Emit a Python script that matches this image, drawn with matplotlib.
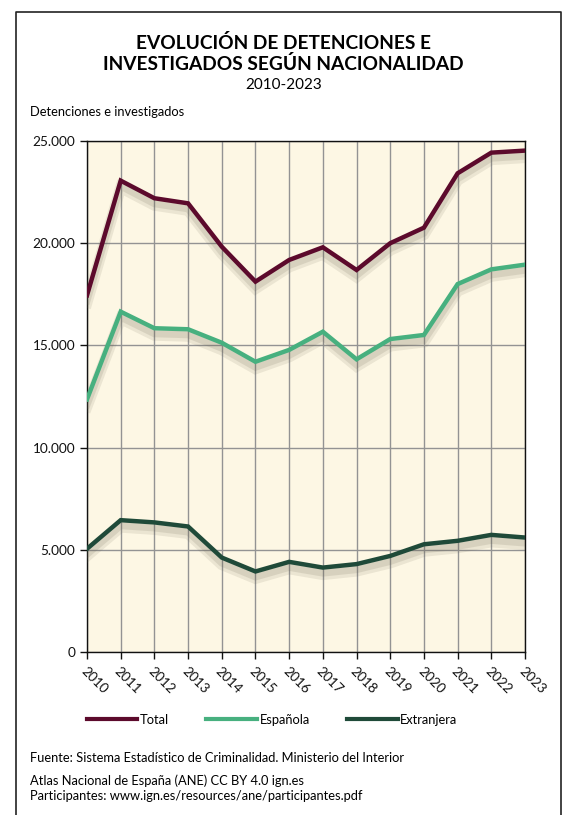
import matplotlib
matplotlib.use("Agg")
import matplotlib.pyplot as plt
import matplotlib.patheffects as pe
from matplotlib.ticker import FuncFormatter

# datos
years = [2010, 2011, 2012, 2013, 2014, 2015, 2016, 2017, 2018, 2019, 2020, 2021, 2022, 2023]
total = [17450, 23060, 22200, 21950, 19830, 18120, 19180, 19800, 18690, 20000, 20760, 23420, 24430, 24530]
espanola = [12360, 16650, 15840, 15790, 15130, 14200, 14780, 15670, 14320, 15310, 15510, 18000, 18720, 18950]
extranjera = [5050, 6450, 6340, 6140, 4620, 3940, 4410, 4130, 4300, 4700, 5270, 5440, 5730, 5600]

series = [("Total", total, "#5c0a2c"),
          ("Española", espanola, "#47b07f"),
          ("Extranjera", extranjera, "#1f4a39")]

plt.rcParams['font.family'] = ['Lato', 'DejaVu Sans']

fig = plt.figure(figsize=(5.67, 8.15), dpi=100)

# marco exterior (abierto por abajo)
W, H = 567, 815
fx = lambda x: x / W
fy = lambda y: 1 - y / H
fig.add_artist(plt.Line2D([fx(16), fx(16), fx(561), fx(561)],
                          [0, fy(12), fy(12), 0], color="#222222", lw=1.2))

fig.text(0.5, fy(43), "EVOLUCIÓN DE DETENCIONES E", ha="center", va="center",
         fontsize=13.8, fontweight="bold")
fig.text(0.5, fy(64), "INVESTIGADOS SEGÚN NACIONALIDAD", ha="center", va="center",
         fontsize=13.8, fontweight="bold")
fig.text(0.5, fy(85), "2010-2023", ha="center", va="center", fontsize=11)
fig.text(fx(30), fy(112), "Detenciones e investigados", ha="left", va="center", fontsize=9.3)

ax = fig.add_axes([fx(87), fy(652), fx(525) - fx(87), fy(141) - fy(652)])
ax.set_facecolor("#fdf7e4")

shadow = [pe.SimpleLineShadow(offset=(0, -5), shadow_color="#6a6450", alpha=0.12, linewidth=8),
          pe.SimpleLineShadow(offset=(0, -4), shadow_color="#6a6450", alpha=0.15, linewidth=5),
          pe.Normal()]

for name, vals, col in series:
    ax.plot(years, vals, color=col, lw=3.2, label=name, zorder=3,
            solid_joinstyle="miter", path_effects=shadow)

ax.set_xlim(2010, 2023)
ax.set_ylim(0, 25000)
ax.set_xticks(years)
ax.set_yticks(range(0, 25001, 5000))
ax.yaxis.set_major_formatter(FuncFormatter(lambda v, p: "0" if v == 0 else f"{int(v):,}".replace(",", ".")))
ax.grid(True, color="#939393", lw=1.0, zorder=1)
ax.set_axisbelow(True)
for s in ax.spines.values():
    s.set_color("#111111")
    s.set_linewidth(1.0)
ax.tick_params(axis="both", direction="out", length=5, width=1, labelsize=9.8, colors="#111111")
ax.tick_params(axis="x", pad=4)
for lab in ax.get_xticklabels():
    lab.set_rotation(-45)
    lab.set_ha("left")
    lab.set_va("top")
    lab.set_rotation_mode("anchor")

leg = fig.legend(loc="center", bbox_to_anchor=(0.48, fy(720)), ncol=3, frameon=False,
                 fontsize=9.3, handlelength=3.9, handletextpad=0.2, columnspacing=2.9)
for h in leg.get_lines():
    h.set_path_effects([])
    h.set_linewidth(3)

fig.text(fx(30), fy(758), "Fuente: Sistema Estadístico de Criminalidad. Ministerio del Interior",
         ha="left", va="center", fontsize=9.3)
fig.text(fx(30), fy(781), "Atlas Nacional de España (ANE) CC BY 4.0 ign.es",
         ha="left", va="center", fontsize=9.3)
fig.text(fx(30), fy(796), "Participantes: www.ign.es/resources/ane/participantes.pdf",
         ha="left", va="center", fontsize=9.3)

fig.savefig("out.png", dpi=100)
